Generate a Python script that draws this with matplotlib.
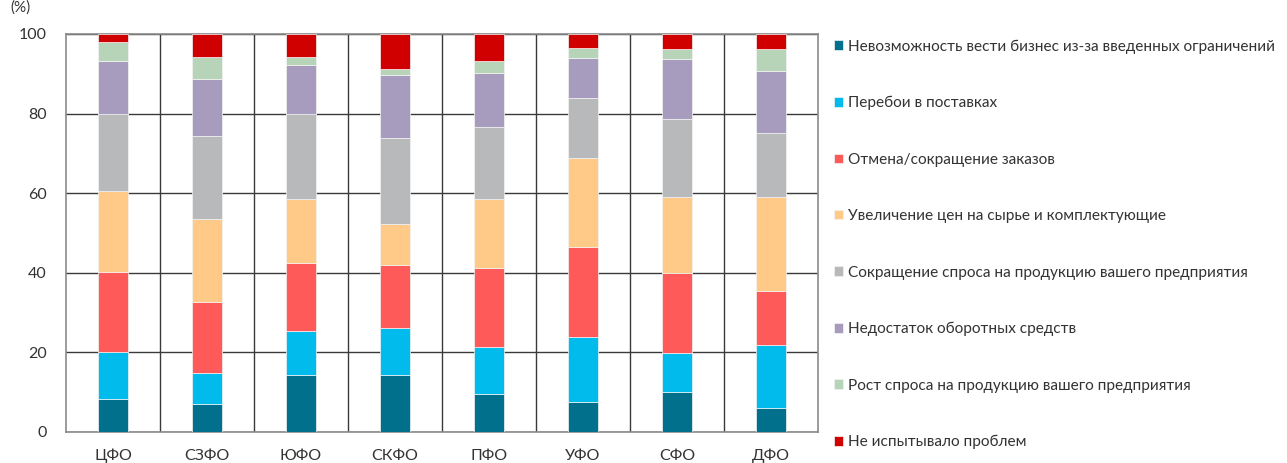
import numpy as np
import matplotlib
matplotlib.use("Agg")
import matplotlib.pyplot as plt
from matplotlib.ticker import MultipleLocator, FixedLocator

plt.rcParams['font.family'] = ['Lato', 'DejaVu Sans']

regions = ['ЦФО', 'СЗФО', 'ЮФО', 'СКФО', 'ПФО', 'УФО', 'СФО', 'ДФО']

labels = [
    'Невозможность вести бизнес из-за введенных ограничений',
    'Перебои в поставках',
    'Отмена/сокращение заказов',
    'Увеличение цен на сырье и комплектующие',
    'Сокращение спроса на продукцию вашего предприятия',
    'Недостаток оборотных средств',
    'Рост спроса на продукцию вашего предприятия',
    'Не испытывало проблем',
]

# shares by region, %
no_business = [8.2, 7.1, 14.2, 14.4, 9.6, 7.5, 10.1, 6.1]
supply      = [12.0, 7.8, 11.1, 11.7, 11.8, 16.3, 9.7, 15.7]
orders      = [20.0, 17.8, 17.1, 15.9, 19.9, 22.7, 20.1, 13.7]
prices      = [20.4, 20.7, 16.1, 10.2, 17.3, 22.3, 19.2, 23.5]
demand_down = [19.4, 21.0, 21.5, 21.7, 18.0, 15.1, 19.5, 16.1]
working_cap = [13.3, 14.3, 12.3, 15.9, 13.7, 10.0, 15.0, 15.7]
demand_up   = [4.8, 5.6, 2.0, 1.4, 2.8, 2.5, 2.7, 5.5]
no_problems = [1.9, 5.7, 5.7, 8.8, 6.9, 3.6, 3.7, 3.7]

series = [no_business, supply, orders, prices, demand_down, working_cap, demand_up, no_problems]
colors = ['#00708c', '#00bbeb', '#ff5a5a', '#ffc987', '#b8b9bb', '#a79cbe', '#b8d4b8', '#d00000']

fig = plt.figure(figsize=(12.87, 4.63), dpi=100)
ax = fig.add_axes([0.0513, 0.067, 0.5843, 0.8596])

x = np.arange(len(regions))
bottom = np.zeros(len(regions))
for vals, col, lab in zip(series, colors, labels):
    ax.bar(x, vals, width=0.31, bottom=bottom, color=col, label=lab,
           edgecolor='#f4f4f4', linewidth=0.5, zorder=3)
    bottom += np.array(vals)

ax.set_xlim(-0.5, len(regions) - 0.5)
ax.set_ylim(0, 100)
ax.yaxis.set_major_locator(MultipleLocator(20))
ax.set_xticks(x)
ax.set_xticklabels(regions)
ax.xaxis.set_minor_locator(FixedLocator(x[:-1] + 0.5))

ax.grid(axis='y', which='major', color='#3a3a3a', linewidth=1.0, zorder=1)
ax.grid(axis='x', which='minor', color='#3a3a3a', linewidth=1.0, zorder=1)
ax.set_axisbelow(True)
for s in ax.spines.values():
    s.set_color('#8a8a8a')
    s.set_linewidth(1.2)

ax.tick_params(axis='both', which='both', length=0, labelsize=11.5, colors='#333333')
ax.tick_params(axis='x', pad=12)
ax.tick_params(axis='y', pad=14)

fig.text(0.008, 0.999, '(%)', fontsize=11, color='#333333', va='top')

ax.legend(loc='upper left', bbox_to_anchor=(0.648, 0.915), bbox_transform=fig.transFigure,
          frameon=False, fontsize=11.1, handlelength=0.57, handleheight=0.57,
          handletextpad=0.35, labelspacing=2.75, borderaxespad=0, borderpad=0,
          labelcolor='#333333')

fig.savefig('out.png', dpi=100)
